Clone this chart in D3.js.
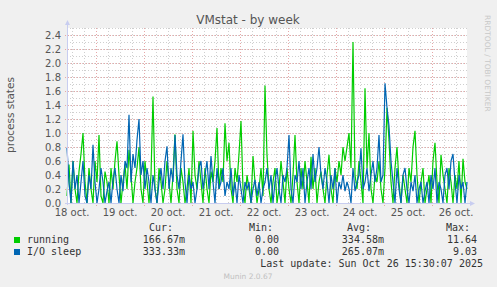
<!DOCTYPE html>
<html>
<head>
<meta charset="utf-8">
<script src="https://cdn.jsdelivr.net/npm/d3@7"></script>
<style>
body { margin: 0; background: #f0f0f0; }
svg { display: block; }
text { font-family: "DejaVu Sans", sans-serif; }
.mono { font-family: "DejaVu Sans Mono", monospace; font-size: 10px; fill: #333; }
</style>
</head>
<body>
<script>
// hourly samples, first one at Oct 18 09:30
var startTime = new Date(2025, 9, 18, 9, 30);
var stepHours = 1;

var running = [
  0.1, 0.55, 0.0, 0.6, 0.2, 0.0, 0.45, 0.7, 1.0, 0.3,
  0.0, 0.5, 0.2, 0.0, 0.6, 0.3, 0.97, 0.1, 0.0, 0.45,
  0.3, 0.0, 0.5, 0.2, 0.6, 0.88, 0.4, 0.0, 0.3, 0.55,
  0.2, 0.76, 0.4, 0.0, 0.3, 0.5, 0.8, 0.2, 0.0, 0.6,
  0.3, 0.0, 0.4, 1.52, 0.2, 0.0, 0.5, 0.3, 0.0, 0.2,
  0.6, 0.3, 0.0, 0.4, 0.98, 0.2, 0.0, 0.5, 0.3, 0.0,
  0.2, 0.5, 0.0, 1.03, 0.4, 0.2, 0.6, 0.3, 0.0, 0.5,
  0.2, 0.0, 0.45, 0.3, 0.6, 1.07, 0.2, 0.5, 0.3, 1.14,
  0.6, 0.86, 0.2, 0.0, 0.5, 0.3, 0.7, 1.17, 0.2, 0.0,
  0.4, 0.2, 0.0, 0.67, 0.3, 0.0, 0.2, 0.5, 0.1, 1.68,
  0.68, 0.2, 0.0, 0.3, 0.5, 0.0, 0.2, 0.6, 0.3, 0.0,
  0.5, 0.2, 0.0, 0.4, 0.97, 0.3, 0.0, 0.5, 0.2, 0.6,
  0.3, 0.0, 0.66, 0.2, 0.5, 0.0, 0.3, 0.45, 0.2, 0.0,
  0.4, 0.69, 0.2, 0.0, 0.5, 0.3, 0.6, 0.4, 0.8, 0.6,
  0.8, 1.0, 0.5, 2.3, 0.4, 0.2, 0.6, 0.3, 0.0, 1.64,
  0.5, 1.0, 0.2, 0.0, 0.4, 0.3, 0.6, 0.2, 0.0, 0.5,
  1.36, 0.9, 0.3, 0.0, 0.5, 0.8, 0.3, 0.0, 0.4, 0.2,
  0.0, 0.5, 0.3, 0.8, 1.03, 0.4, 0.0, 0.3, 0.5, 0.0,
  0.2, 0.4, 0.0, 0.6, 0.86, 0.3, 0.0, 0.69, 0.4, 0.2,
  0.0, 0.5, 0.3, 0.0, 0.4, 0.2, 0.6, 0.0, 0.63, 0.3,
  0.2
];

var ioSleep = [
  0.79, 0.3, 0.0, 0.6, 0.2, 0.4, 0.0, 0.3, 0.6, 0.1,
  0.0, 0.4, 0.2, 0.83, 0.3, 0.0, 0.2, 0.5, 0.3, 0.0,
  0.17, 0.3, 0.0, 0.33, 0.5, 0.2, 0.0, 0.4, 0.17, 0.6,
  0.5, 1.26, 0.3, 0.7, 0.5, 0.9, 1.2, 0.4, 0.6, 0.2,
  0.5, 0.3, 0.0, 0.4, 0.2, 0.0, 0.3, 0.5, 0.2, 0.6,
  0.81, 0.2, 0.5, 0.3, 0.97, 0.4, 0.2, 0.6, 0.98, 0.3,
  0.0, 0.4, 0.2, 0.3, 0.0, 0.2, 0.5, 0.6, 0.2, 0.4,
  0.6, 0.2, 0.67, 0.3, 0.0, 0.5, 0.2, 0.3, 0.5, 0.1,
  0.3, 0.2, 0.5, 0.1, 0.3, 0.0, 0.4, 0.2, 0.0, 0.3,
  0.2, 0.3, 0.0, 0.2, 0.33, 0.1, 0.3, 0.0, 0.2, 0.3,
  0.5, 0.2, 0.4, 0.0, 0.3, 0.5, 0.2, 0.0, 0.4, 0.3,
  0.5, 0.97, 0.2, 0.0, 0.4, 0.3, 0.6, 0.2, 0.5, 0.0,
  0.3, 0.5, 0.2, 0.7, 0.3, 0.5, 0.8, 0.4, 0.2, 0.5,
  0.3, 0.0, 0.4, 0.2, 0.5, 0.0, 0.3, 0.2, 0.4, 0.17,
  0.3, 0.2, 0.0, 0.5, 0.17, 0.3, 0.4, 0.78, 0.2, 0.3,
  0.5, 0.17, 0.4, 0.6, 0.3, 0.5, 0.97, 0.3, 0.4, 1.71,
  1.36, 1.1, 0.6, 0.3, 0.0, 0.5, 0.2, 0.0, 0.4, 0.5,
  0.2, 0.0, 0.3, 0.17, 0.4, 0.0, 0.2, 0.3, 0.0, 0.17,
  0.3, 0.0, 0.4, 0.2, 0.5, 0.0, 0.3, 0.2, 0.0, 0.4,
  0.5, 0.2, 0.6, 0.7, 0.3, 0.0, 0.4, 0.2, 0.3, 0.0,
  0.3
];

var seriesNames = ["running", "I/O sleep"];
var seriesColors = ["#00cc00", "#0066b3"];
var statHeads = ["Cur:", "Min:", "Avg:", "Max:"];
var statRows = [
  ["166.67m", "0.00", "334.58m", "11.64"],
  ["333.33m", "0.00", "265.07m", "9.03"]
];
var yTicks = [0, 0.2, 0.4, 0.6, 0.8, 1.0, 1.2, 1.4, 1.6, 1.8, 2.0, 2.2, 2.4];
var dayTicks = d3.range(18, 27).map(function (d) { return new Date(2025, 9, d); });

var W = 497, H = 287;
var mLeft = 67, mRight = 467, mTop = 28, mBottom = 203;

var svg = d3.select("body").append("svg")
    .attr("width", W)
    .attr("height", H);

var tEnd = new Date(startTime.getTime() + 200 * 3600 * 1000);
var x = d3.scaleTime().domain([startTime, tEnd]).range([mLeft, mRight]);
var y = d3.scaleLinear().domain([0, 2.5]).range([mBottom, mTop]);

// plot background
svg.append("rect")
    .attr("x", mLeft).attr("y", mTop)
    .attr("width", mRight - mLeft).attr("height", mBottom - mTop)
    .attr("fill", "#fff");

// minor grid
var minorY = d3.range(1, 26).map(function (i) { return i / 10; });
svg.selectAll("line.gy").data(minorY).enter().append("line")
    .attr("x1", mLeft).attr("x2", mRight)
    .attr("y1", function (d) { return Math.round(y(d)) + 0.5; })
    .attr("y2", function (d) { return Math.round(y(d)) + 0.5; })
    .attr("stroke", "#cfcfcf").attr("stroke-dasharray", "1,2");

var minorX = d3.timeHour.every(6).range(startTime, tEnd);
svg.selectAll("line.gx").data(minorX).enter().append("line")
    .attr("x1", function (d) { return Math.round(x(d)) + 0.5; })
    .attr("x2", function (d) { return Math.round(x(d)) + 0.5; })
    .attr("y1", mTop).attr("y2", mBottom + 2)
    .attr("stroke", "#cfcfcf").attr("stroke-dasharray", "1,2");

// major grid
svg.selectAll("line.my").data(yTicks.slice(1)).enter().append("line")
    .attr("x1", mLeft - 2).attr("x2", mRight)
    .attr("y1", function (d) { return Math.round(y(d)) + 0.5; })
    .attr("y2", function (d) { return Math.round(y(d)) + 0.5; })
    .attr("stroke", "#e6a8a8").attr("stroke-dasharray", "1,2");

var majorX = dayTicks.filter(function (d) { return d > startTime; });
svg.selectAll("line.mx").data(majorX).enter().append("line")
    .attr("x1", function (d) { return Math.round(x(d)) + 0.5; })
    .attr("x2", function (d) { return Math.round(x(d)) + 0.5; })
    .attr("y1", mTop).attr("y2", mBottom + 3)
    .attr("stroke", "#e6a8a8").attr("stroke-dasharray", "1,2");

// series
var line = d3.line()
    .x(function (d, i) { return x(new Date(startTime.getTime() + i * stepHours * 3600 * 1000)); })
    .y(function (d) { return y(d); });

[running, ioSleep].forEach(function (s, k) {
    svg.append("path")
        .datum(s)
        .attr("fill", "none")
        .attr("stroke", seriesColors[k])
        .attr("stroke-width", 1.2)
        .attr("d", line);
});

// axes
svg.append("line")
    .attr("x1", mLeft - 2).attr("x2", mRight + 4)
    .attr("y1", mBottom + 0.5).attr("y2", mBottom + 0.5)
    .attr("stroke", "#c8cdf0");
svg.append("line")
    .attr("x1", mLeft + 0.5).attr("x2", mLeft + 0.5)
    .attr("y1", mBottom + 2).attr("y2", mTop - 4)
    .attr("stroke", "#c8cdf0");
svg.append("path")
    .attr("d", "M" + (mLeft - 2) + "," + (mTop - 3) + "L" + (mLeft + 0.5) + "," + (mTop - 8) + "L" + (mLeft + 3) + "," + (mTop - 3) + "Z")
    .attr("fill", "#c8cdf0");
svg.append("path")
    .attr("d", "M" + (mRight + 3) + "," + (mBottom - 2) + "L" + (mRight + 8) + "," + (mBottom + 0.5) + "L" + (mRight + 3) + "," + (mBottom + 3) + "Z")
    .attr("fill", "#c8cdf0");

// y labels
svg.selectAll("text.yl").data(yTicks).enter().append("text")
    .attr("x", 61)
    .attr("y", function (d) { return y(d) + 3.5; })
    .attr("text-anchor", "end")
    .attr("font-size", "10px")
    .attr("fill", "#555")
    .text(function (d) { return d.toFixed(1); });

// x labels at noon
svg.selectAll("text.xl").data(dayTicks).enter().append("text")
    .attr("x", function (d) { return x(d3.timeHour.offset(d, 12)); })
    .attr("y", 216)
    .attr("text-anchor", "middle")
    .attr("font-size", "10px")
    .attr("fill", "#555")
    .text(function (d) { return d.getDate() + " oct."; });

// title
svg.append("text")
    .attr("x", 248).attr("y", 24)
    .attr("text-anchor", "middle")
    .attr("font-size", "12px")
    .attr("fill", "#555")
    .text("VMstat - by week");

svg.append("text")
    .attr("transform", "translate(14,115) rotate(-90)")
    .attr("text-anchor", "middle")
    .attr("font-size", "10.5px")
    .attr("fill", "#555")
    .text("process states");

svg.append("text")
    .attr("transform", "translate(485,15) rotate(90)")
    .attr("font-size", "7.5px")
    .attr("fill", "#c8c8c8")
    .text("RRDTOOL / TOBI OETIKER");

// legend
var headX = [173, 273, 371, 470];
var valX = [185, 279, 384, 477];
svg.selectAll("text.hd").data(statHeads).enter().append("text")
    .attr("class", "mono")
    .attr("x", function (d, i) { return headX[i]; })
    .attr("y", 231)
    .attr("text-anchor", "end")
    .text(function (d) { return d; });

seriesNames.forEach(function (name, k) {
    var ly = 243 + k * 12;
    svg.append("rect")
        .attr("x", 14).attr("y", ly - 6)
        .attr("width", 6).attr("height", 6)
        .attr("fill", seriesColors[k]);
    svg.append("text").attr("class", "mono")
        .attr("x", 27).attr("y", ly)
        .text(name);
    statRows[k].forEach(function (v, j) {
        svg.append("text").attr("class", "mono")
            .attr("x", valX[j]).attr("y", ly)
            .attr("text-anchor", "end")
            .text(v);
    });
});

svg.append("text").attr("class", "mono")
    .attr("x", 483).attr("y", 267)
    .attr("text-anchor", "end")
    .text("Last update: Sun Oct 26 15:30:07 2025");

svg.append("text")
    .attr("x", 248).attr("y", 279)
    .attr("text-anchor", "middle")
    .attr("font-size", "7.5px")
    .attr("fill", "#c0c0c0")
    .text("Munin 2.0.67");
</script>
</body>
</html>
